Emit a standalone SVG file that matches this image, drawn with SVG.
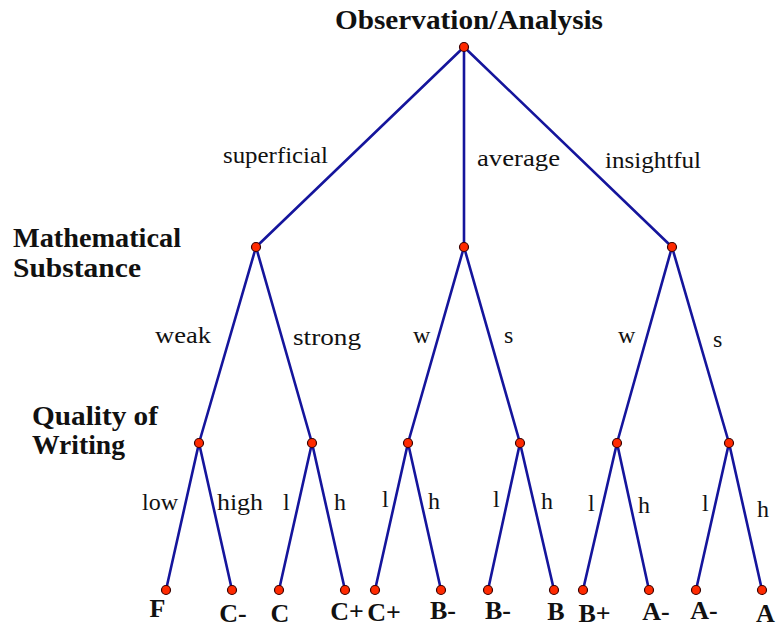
<svg xmlns="http://www.w3.org/2000/svg" width="778" height="629" viewBox="0 0 778 629">
<style>
.e{stroke:#15159c;stroke-width:2.6;fill:none;stroke-linecap:round}
.d{fill:#ff2a00;stroke:#3a0000;stroke-width:1.2}
.h{font-family:"Liberation Serif","Times New Roman",serif;font-weight:bold;font-size:28px;fill:#111}
.l{font-family:"Liberation Serif","Times New Roman",serif;font-size:24px;fill:#111}
.g{font-family:"Liberation Serif","Times New Roman",serif;font-weight:bold;font-size:26px;fill:#111;text-anchor:middle}
</style>
<rect width="778" height="629" fill="#fff"/>
<g id="connectors">
<path class="e" d="M464 47L256 247M464 47L464 247M464 47L672 247"/>
<path class="e" d="M256 247L199 443M256 247L312 443M464 247L408 443M464 247L520 443M672 247L617 443M672 247L729 443"/>
<path class="e" d="M199 443L166 590M199 443L232 590M312 443L279 590M312 443L345 590M408 443L375 590M408 443L441 590M520 443L488 590M520 443L554 590M617 443L583 590M617 443L649 590M729 443L696 590M729 443L762 590"/>
</g>
<g id="level-labels">
<text class="h" x="335" y="29" textLength="268" lengthAdjust="spacingAndGlyphs">Observation/Analysis</text>
<text class="h" x="13" y="247" textLength="168" lengthAdjust="spacingAndGlyphs">Mathematical</text>
<text class="h" x="13" y="277" textLength="128" lengthAdjust="spacingAndGlyphs">Substance</text>
<text class="h" x="32" y="425" textLength="126" lengthAdjust="spacingAndGlyphs">Quality of</text>
<text class="h" x="32" y="454" textLength="93" lengthAdjust="spacingAndGlyphs">Writing</text>
</g>
<g id="edge-labels">
<text class="l" x="223" y="163" textLength="105" lengthAdjust="spacingAndGlyphs">superficial</text>
<text class="l" x="477" y="166" textLength="83" lengthAdjust="spacingAndGlyphs">average</text>
<text class="l" x="605" y="168" textLength="96" lengthAdjust="spacingAndGlyphs">insightful</text>
<text class="l" x="155" y="343" textLength="56" lengthAdjust="spacingAndGlyphs">weak</text>
<text class="l" x="293" y="345" textLength="68" lengthAdjust="spacingAndGlyphs">strong</text>
<text class="l" x="413" y="343">w</text>
<text class="l" x="504" y="343">s</text>
<text class="l" x="618" y="343">w</text>
<text class="l" x="713" y="347">s</text>
<text class="l" x="142" y="510" textLength="36" lengthAdjust="spacingAndGlyphs">low</text>
<text class="l" x="217" y="510" textLength="46" lengthAdjust="spacingAndGlyphs">high</text>
<text class="l" x="283" y="510">l</text>
<text class="l" x="334" y="510">h</text>
<text class="l" x="382" y="507">l</text>
<text class="l" x="428" y="509">h</text>
<text class="l" x="493" y="507">l</text>
<text class="l" x="541" y="509">h</text>
<text class="l" x="588" y="511">l</text>
<text class="l" x="638" y="513">h</text>
<text class="l" x="702" y="511">l</text>
<text class="l" x="757" y="517">h</text>
</g>
<g id="root"><circle class="d" cx="464" cy="47" r="4.5"/></g>
<g id="ms-superficial"><circle class="d" cx="256" cy="247" r="4.5"/></g>
<g id="ms-average"><circle class="d" cx="464" cy="247" r="4.5"/></g>
<g id="ms-insightful"><circle class="d" cx="672" cy="247" r="4.5"/></g>
<g id="qw-1"><circle class="d" cx="199" cy="443" r="4.5"/></g>
<g id="qw-2"><circle class="d" cx="312" cy="443" r="4.5"/></g>
<g id="qw-3"><circle class="d" cx="408" cy="443" r="4.5"/></g>
<g id="qw-4"><circle class="d" cx="520" cy="443" r="4.5"/></g>
<g id="qw-5"><circle class="d" cx="617" cy="443" r="4.5"/></g>
<g id="qw-6"><circle class="d" cx="729" cy="443" r="4.5"/></g>
<g id="leaf-F"><circle class="d" cx="166" cy="590" r="4.5"/><text class="g" x="157.5" y="617">F</text></g>
<g id="leaf-Cm"><circle class="d" cx="232" cy="590" r="4.5"/><text class="g" x="233" y="622">C-</text></g>
<g id="leaf-C"><circle class="d" cx="279" cy="590" r="4.5"/><text class="g" x="280" y="622">C</text></g>
<g id="leaf-Cp1"><circle class="d" cx="345" cy="590" r="4.5"/><text class="g" x="347" y="620">C+</text></g>
<g id="leaf-Cp2"><circle class="d" cx="375" cy="590" r="4.5"/><text class="g" x="384" y="621">C+</text></g>
<g id="leaf-Bm1"><circle class="d" cx="441" cy="590" r="4.5"/><text class="g" x="443" y="619">B-</text></g>
<g id="leaf-Bm2"><circle class="d" cx="488" cy="590" r="4.5"/><text class="g" x="498" y="619">B-</text></g>
<g id="leaf-B"><circle class="d" cx="554" cy="590" r="4.5"/><text class="g" x="556" y="620">B</text></g>
<g id="leaf-Bp"><circle class="d" cx="583" cy="590" r="4.5"/><text class="g" x="594.5" y="622">B+</text></g>
<g id="leaf-Am1"><circle class="d" cx="649" cy="590" r="4.5"/><text class="g" x="656" y="620">A-</text></g>
<g id="leaf-Am2"><circle class="d" cx="696" cy="590" r="4.5"/><text class="g" x="704" y="619">A-</text></g>
<g id="leaf-A"><circle class="d" cx="762" cy="590" r="4.5"/><text class="g" x="765.5" y="622">A</text></g>
</svg>
